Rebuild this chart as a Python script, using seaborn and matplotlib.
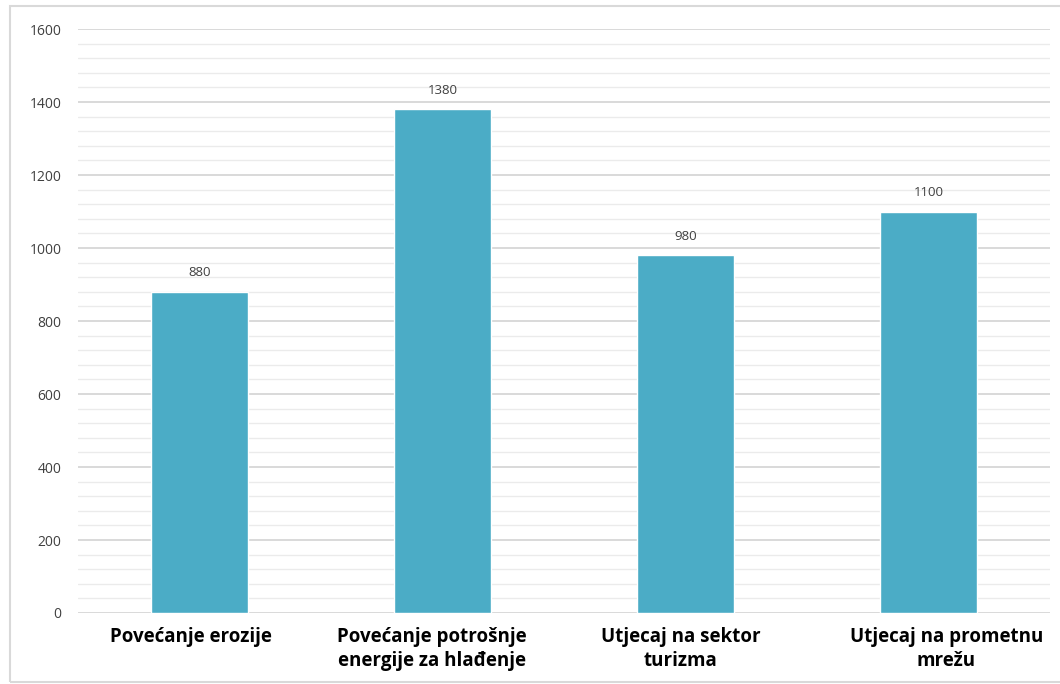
import matplotlib
matplotlib.use("Agg")
import matplotlib.pyplot as plt
import matplotlib.transforms as mtrans
import seaborn as sns
import pandas as pd
from matplotlib.patches import Rectangle

categories = ["Povećanje erozije", "Povećanje potrošnje\nenergije za hlađenje",
              "Utjecaj na sektor\nturizma", "Utjecaj na prometnu\nmrežu"]
values = [880, 1380, 980, 1100]
yticks = [0, 200, 400, 600, 800, 1000, 1200, 1400, 1600]

sns.set_theme(style="white")
plt.rcParams['font.family'] = ['Open Sans', 'DejaVu Sans']

df = pd.DataFrame({"cat": categories, "val": values})

fig = plt.figure(figsize=(10.6, 6.84), dpi=100)
ax = fig.add_axes([78/1060, 1-613/684, (1050-78)/1060, (613-29)/684])

sns.barplot(data=df, x="cat", y="val", color="#4BACC6", saturation=1,
            width=0.4, ax=ax)

ax.set_ylim(0, 1600)
ax.set_xlim(-0.5, 3.5)
ax.set_yticks(yticks)
ax.set_yticklabels([str(t) for t in yticks], fontsize=10, color="#404040")
ax.set_yticks(range(0, 1601, 40), minor=True)
ax.grid(axis="y", which="major", color="#D9D9D9", linewidth=1.4)
ax.grid(axis="y", which="minor", color="#EBEBEB", linewidth=1.0)
ax.set_axisbelow(True)
for s in ax.spines.values():
    s.set_visible(False)
ax.tick_params(axis="y", which="both", length=0, pad=12)
ax.tick_params(axis="x", length=0, pad=10)
ax.set_xlabel("")
ax.set_ylabel("")

label_shift_px = [-9, -11, -5, 18]
for lab, dx in zip(ax.get_xticklabels(), label_shift_px):
    lab.set_fontsize(13.5)
    lab.set_fontweight("bold")
    lab.set_color("black")
    lab.set_ha("center")
    lab.set_multialignment("center")
    lab.set_linespacing(1.3)
    off = mtrans.ScaledTranslation(dx/100, 0, fig.dpi_scale_trans)
    lab.set_transform(lab.get_transform() + off)

for i, v in enumerate(values):
    ax.annotate(str(v), (i, v), xytext=(0, 9), textcoords="offset points",
                ha="center", va="bottom", fontsize=9.5, color="#404040")

fig.patches.append(Rectangle((10/1060, 2/684), 1 - 10/1060 + 0.01, 1 - 8/684,
                             transform=fig.transFigure, fill=False,
                             edgecolor="#D9D9D9", linewidth=1.5))

fig.savefig("out.png", dpi=100)
